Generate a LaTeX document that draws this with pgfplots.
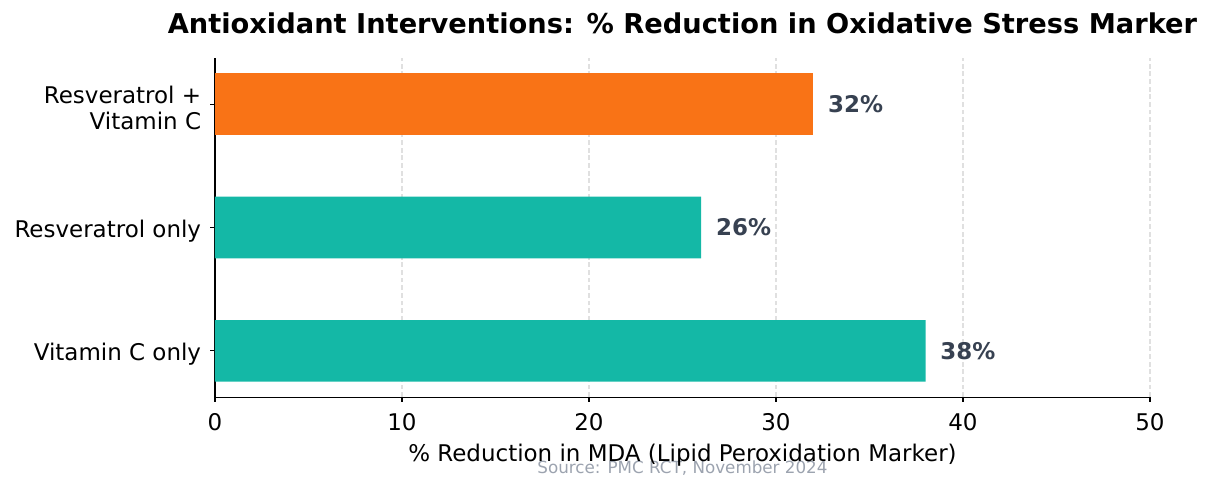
\documentclass[border=0pt]{standalone}
\usepackage{pgfplots}
\pgfplotsset{compat=1.18}
\usepackage{fontspec}
\setmainfont{DejaVu Sans}
\definecolor{teal}{HTML}{14B8A6}
\definecolor{orng}{HTML}{F97316}
\definecolor{lbl}{HTML}{374151}
\definecolor{src}{HTML}{9CA3AF}
\definecolor{gridc}{HTML}{E0E0E0}
\begin{document}
\begin{tikzpicture}
\path[use as bounding box] (-154.8bp,-67bp) rectangle (718.6bp,285.9bp);
\begin{axis}[
  at={(0,0)}, anchor=south west,
  scale only axis, width=673.2bp, height=244.1bp,
  xbar, bar width=0.5, bar shift=0pt,
  xmin=0, xmax=50, ymin=-0.375, ymax=2.375,
  axis x line*=bottom, axis y line*=left,
  axis line style={line width=0.8bp, black},
  xtick={0,10,20,30,40,50},
  ytick={0,1,2},
  yticklabels={Vitamin C only, Resveratrol only, {Resveratrol +\\Vitamin C}},
  yticklabel style={align=right, font=\fontsize{16.6}{18.7}\selectfont, text=black, xshift=-3bp, yshift=-2.5bp},
  xticklabel style={font=\fontsize{16.6}{19}\selectfont, yshift=-5bp},
  /pgf/number format/assume math mode=true,
  tick align=outside, major tick length=3.5bp,
  tick style={line width=0.8bp, black},
  xmajorgrids, ymajorgrids=false,
  major x grid style={gridc, line width=0.8bp, dash pattern=on 3.5bp off 2bp},
  xlabel={\% Reduction in MDA (Lipid Peroxidation Marker)},
  xlabel style={font=\fontsize{16.6}{19}\selectfont, at={(axis description cs:0.5,0)}, anchor=base, yshift=-46.5bp},
  title={\bfseries Antioxidant Interventions: \% Reduction in Oxidative Stress Marker},
  title style={font=\fontsize{19.7}{23}\selectfont, at={(axis description cs:0.5,1)}, anchor=base, yshift=11.6bp},
  nodes near coords={\pgfmathprintnumber{\pgfplotspointmeta}\%},
  point meta=x,
  every node near coord/.append style={font=\fontsize{16.6}{19}\selectfont\bfseries, text=lbl, anchor=west, inner sep=0pt, xshift=10.5bp},
  clip=false,
]
\addplot[fill=teal, draw=none] coordinates {(38,0) (26,1)};
\addplot[fill=orng, draw=none] coordinates {(32,2)};
\node[font=\fontsize{12.1}{15}\selectfont, text=src, anchor=base] at (axis description cs:0.5,0) [yshift=-54.7bp] {Source: PMC RCT, November 2024};
\end{axis}
\end{tikzpicture}
\end{document}
